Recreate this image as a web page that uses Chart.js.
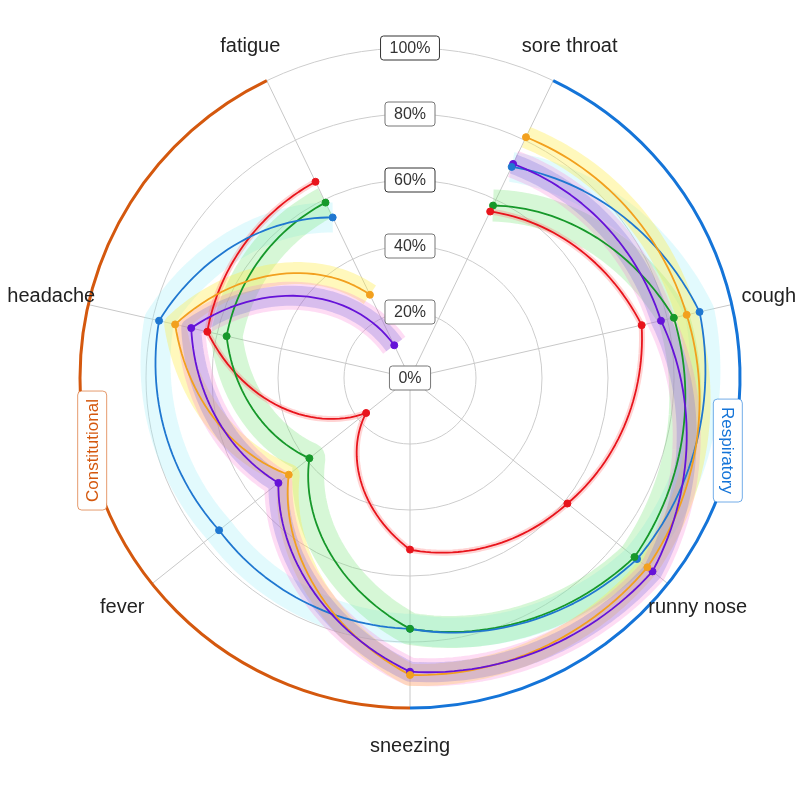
<!DOCTYPE html>
<html>
<head>
<meta charset="utf-8">
<script src="https://cdn.jsdelivr.net/npm/chart.js@4.4.1/dist/chart.umd.min.js"></script>
<style>
  html, body { margin: 0; padding: 0; background: #fff; }
  #wrap { width: 800px; height: 800px; }
</style>
</head>
<body>
<div id="wrap"><canvas id="symptomChart" width="800" height="800"></canvas></div>
<script>
// categories clockwise, starting at sore throat
const categories = ['sore throat', 'cough', 'runny nose', 'sneezing', 'fever', 'headache', 'fatigue'];
const tickValues = [0, 20, 40, 60, 80, 100];
const tickLabels = ['0%', '20%', '40%', '60%', '80%', '100%'];

// values in %
const redValues    = [56, 72, 61, 52, 17, 63, 66];
const orangeValues = [81, 86, 92, 90, 47, 73, 28];
const greenValues  = [58, 82, 87, 76, 39, 57, 59];
const blueValues   = [71, 90, 88, 76, 74, 78, 54];
const purpleValues = [72, 78, 94, 89, 51, 68, 11];

// symptom groups (arc from one category index to another)
const groupNames = ['Respiratory', 'Constitutional'];
const groupFrom = [0, 3];
const groupTo = [3, 6];

// styles
const seriesStyles = [
    { label: 'red',    data: redValues,    color: '#e8141c' },
    { label: 'green',  data: greenValues,  color: '#16982a' },
    { label: 'blue',   data: blueValues,   color: '#1f77d0' },
    { label: 'orange', data: orangeValues, color: '#f2a01e' },
    { label: 'purple', data: purpleValues, color: '#6512d8' }
];
const bandStyles = [
    { series: 2, color: 'rgba(160, 240, 250, 0.30)', width: 30 },
    { series: 1, color: 'rgba(120, 230, 120, 0.30)', width: 32 },
    { series: 3, color: 'rgba(255, 236, 70, 0.36)',  width: 22 },
    { series: 4, color: 'rgba(250, 110, 210, 0.24)', width: 28 },
    { series: 4, color: 'rgba(110, 100, 215, 0.26)', width: 20 },
    { series: 0, color: 'rgba(255, 110, 110, 0.30)', width: 6 }
];
const groupColors = ['#1474d8', '#d4580e'];
const groupBoxBorder = ['rgba(20, 116, 216, 0.6)', 'rgba(212, 88, 14, 0.6)'];
const darkTicks = [60, 100];
const fontFamily = '"Liberation Sans", Arial, sans-serif';

// spiral path between neighbouring categories (no closing segment)
function traceSpiral(ctx, scale, values) {
    const steps = 30;
    ctx.beginPath();
    for (let i = 0; i < values.length - 1; i++) {
        for (let s = 0; s <= steps; s++) {
            const t = s / steps;
            const v = values[i] + (values[i + 1] - values[i]) * t;
            const p = scale.getPointPosition(i + t, scale.getDistanceFromCenterForValue(v));
            if (i === 0 && s === 0) ctx.moveTo(p.x, p.y);
            else ctx.lineTo(p.x, p.y);
        }
    }
}

const polarLines = {
    id: 'polarLines',
    beforeDatasetsDraw(chart) {
        const scale = chart.scales.r;
        const ctx = chart.ctx;
        ctx.save();
        ctx.lineJoin = 'round';
        ctx.lineCap = 'butt';
        bandStyles.forEach(b => {
            ctx.strokeStyle = b.color;
            ctx.lineWidth = b.width;
            traceSpiral(ctx, scale, seriesStyles[b.series].data);
            ctx.stroke();
        });
        seriesStyles.forEach(s => {
            ctx.strokeStyle = s.color;
            ctx.lineWidth = 1.8;
            traceSpiral(ctx, scale, s.data);
            ctx.stroke();
        });
        ctx.restore();
    }
};

const groupArcs = {
    id: 'groupArcs',
    afterDatasetsDraw(chart) {
        const scale = chart.scales.r;
        const ctx = chart.ctx;
        const r = scale.drawingArea;
        ctx.save();
        groupNames.forEach((name, g) => {
            const a0 = scale.getIndexAngle(groupFrom[g]) - Math.PI / 2;
            const a1 = scale.getIndexAngle(groupTo[g]) - Math.PI / 2;
            ctx.strokeStyle = groupColors[g];
            ctx.lineWidth = 3;
            ctx.beginPath();
            ctx.arc(scale.xCenter, scale.yCenter, r, a0, a1);
            ctx.stroke();

            const mid = scale.getPointPosition((groupFrom[g] + groupTo[g]) / 2, r - 4);
            ctx.save();
            ctx.translate(mid.x, mid.y);
            ctx.rotate(mid.x > scale.xCenter ? Math.PI / 2 : -Math.PI / 2);
            ctx.font = '17px ' + fontFamily;
            const w = ctx.measureText(name).width + 16;
            const h = 29;
            ctx.fillStyle = '#fff';
            ctx.strokeStyle = groupBoxBorder[g];
            ctx.lineWidth = 1;
            ctx.beginPath();
            ctx.roundRect(-w / 2, -h / 2, w, h, 4);
            ctx.fill();
            ctx.stroke();
            ctx.fillStyle = groupColors[g];
            ctx.textAlign = 'center';
            ctx.textBaseline = 'middle';
            ctx.fillText(name, 0, 1);
            ctx.restore();
        });
        ctx.restore();
    }
};

const labelsAndTicks = {
    id: 'labelsAndTicks',
    afterDraw(chart) {
        const scale = chart.scales.r;
        const ctx = chart.ctx;
        ctx.save();
        ctx.textAlign = 'center';
        ctx.textBaseline = 'middle';

        // category names along their spokes
        ctx.font = '20px ' + fontFamily;
        ctx.fillStyle = '#222';
        categories.forEach((c, i) => {
            const p = scale.getPointPosition(i, scale.drawingArea + 38);
            ctx.fillText(c, p.x, p.y);
        });

        // boxed tick labels up the vertical
        ctx.font = '16px ' + fontFamily;
        tickValues.forEach((v, k) => {
            const y = scale.yCenter - scale.getDistanceFromCenterForValue(v);
            const w = ctx.measureText(tickLabels[k]).width + 18;
            const h = 24;
            ctx.fillStyle = '#fff';
            ctx.strokeStyle = darkTicks.includes(v) ? '#333' : '#777';
            ctx.lineWidth = 1;
            ctx.beginPath();
            ctx.roundRect(scale.xCenter - w / 2, y - h / 2, w, h, 3);
            ctx.fill();
            ctx.stroke();
            ctx.fillStyle = '#333';
            ctx.fillText(tickLabels[k], scale.xCenter, y + 1);
        });
        ctx.restore();
    }
};

function createSymptomChart() {
    const ctx = document.getElementById('symptomChart');
    if (!ctx) return;

    new Chart(ctx, {
        type: 'radar',
        data: {
            labels: categories,
            datasets: seriesStyles.map(s => ({
                label: s.label,
                data: s.data,
                showLine: false,
                borderColor: s.color,
                backgroundColor: 'transparent',
                pointRadius: 3.5,
                pointBackgroundColor: s.color,
                pointBorderColor: s.color,
                pointBorderWidth: 1
            }))
        },
        options: {
            responsive: false,
            animation: false,
            layout: {
                padding: { left: 80, right: 60, top: 48, bottom: 92 }
            },
            plugins: {
                legend: { display: false },
                tooltip: { enabled: false }
            },
            scales: {
                r: {
                    min: 0,
                    max: 100,
                    startAngle: 180 / categories.length,
                    ticks: { display: false, stepSize: 20 },
                    pointLabels: { display: false },
                    grid: { circular: true, color: '#cdcdcd', lineWidth: 1 },
                    angleLines: { color: '#c8c8c8', lineWidth: 1 }
                }
            }
        },
        plugins: [polarLines, groupArcs, labelsAndTicks]
    });
}

document.addEventListener('DOMContentLoaded', function() {
    createSymptomChart();
});
</script>
</body>
</html>
